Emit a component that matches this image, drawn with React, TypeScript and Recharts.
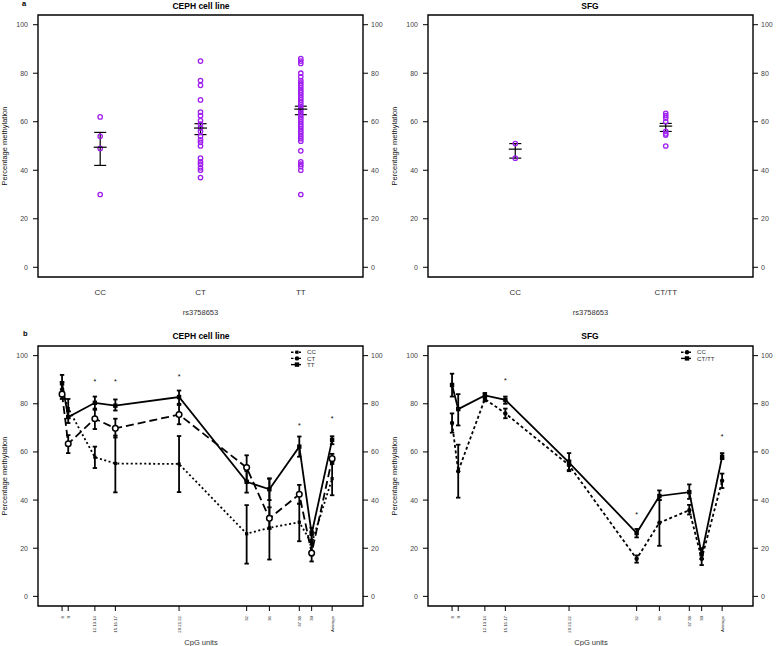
import {
  ComposedChart,
  ErrorBar,
  Legend,
  Line,
  ReferenceArea,
  Scatter,
  XAxis,
  YAxis,
} from 'recharts';

const FONT = '"Liberation Sans", Arial, Helvetica, sans-serif';
const PURPLE = '#A020F0';
const INK = '#333';

const Y_TICKS = [0, 20, 40, 60, 80, 100];
const Y_DOMAIN: [number, number] = [-4, 104];

// a) per-sample methylation by rs3758653 genotype
const CEPH_GENOS = ['CC', 'CT', 'TT'];
const CEPH_CC = [62, 54, 49, 30];
const CEPH_CT = [85, 77, 75, 69, 64, 62.5, 60.5, 59, 57.5, 56, 54, 52.5, 51.5, 50, 45, 43.5, 42.5, 41, 40, 37];
const CEPH_TT = [
  86, 85, 84, 80, 78.5, 77, 76, 75, 74, 73, 72, 71, 70, 69, 68, 67, 66, 65, 64, 63, 62, 61, 60, 59, 58, 57, 56, 55,
  54, 53, 52, 48, 43.5, 42.5, 41.5, 40, 30,
];
const CEPH_MEAN = [49.5, 57.4, 65.2];
const CEPH_SE_LO = [42, 54.7, 62.9];
const CEPH_SE_HI = [55.6, 59.2, 66.4];

const SFG_GENOS = ['CC', 'CT/TT'];
const SFG_CC = [51, 45];
const SFG_CTTT = [63.5, 62.5, 61.5, 60, 56, 55, 54.5, 50];
const SFG_MEAN = [48.7, 58.2];
const SFG_SE_LO = [45, 56];
const SFG_SE_HI = [51, 59.3];

// b) mean methylation per CpG unit
const CPG_LABELS = ['8', '9', '12.13.14', '15.16.17', '20.21.22', '32', '36', '37.38', '39', 'Average'];
const CPG_POS = [7.4, 9.3, 17.5, 23.8, 43.4, 64.2, 71.2, 80.4, 84.2, 90.5];

const CEPH_B_CC = [86, 78, 57.8, 55.2, 55, 26, 28.5, 30.8, 22, 48.9];
const CEPH_B_CC_LO = [83, 74, 53.3, 43.2, 43.3, 13.6, 15.3, 22.9, 17, 42];
const CEPH_B_CC_HI = [89, 82, 62.2, 66.8, 66.6, 37.9, 48.9, 38.5, 27, 55.8];
const CEPH_B_CT = [84, 63.4, 73.8, 69.8, 75.5, 53.5, 32.4, 42.4, 18, 57.2];
const CEPH_B_CT_LO = [82, 59.5, 69.5, 66, 71.5, 48, 28, 38.5, 14.5, 55];
const CEPH_B_CT_HI = [86, 67, 78, 73.8, 79.5, 58.6, 37, 46.3, 21.5, 59.2];
const CEPH_B_TT = [88.5, 74.5, 80.4, 79.2, 82.8, 47.6, 44.5, 62.2, 26, 65];
const CEPH_B_TT_LO = [85, 72, 77.5, 77.2, 80, 43.1, 40, 58, 23.5, 63.2];
const CEPH_B_TT_HI = [92, 77, 83, 81.8, 85.5, 52, 49, 66.4, 28.5, 66.5];
const CEPH_STAR_IDX = [2, 3, 4, 7, 9];
const CEPH_STAR_Y = [89.2, 89.2, 91.4, 71, 74];

const SFG_B_CC = [72, 52, 82, 76, 54.5, 15.6, 30.6, 35.8, 15.6, 48];
const SFG_B_CC_LO = [68, 41, 81, 74, 52.5, 14, 21, 34, 13, 45];
const SFG_B_CC_HI = [76, 63, 83, 78, 56.5, 17, 40, 38, 18, 51];
const SFG_B_CTTT = [87.8, 77.8, 83.5, 81.6, 55.6, 26.3, 41.7, 43.3, 17.5, 58];
const SFG_B_CTTT_LO = [83, 71, 82.5, 80, 52, 24.5, 40, 40.5, 15.5, 57];
const SFG_B_CTTT_HI = [92.5, 84, 84.5, 83, 59.5, 28, 44, 46.5, 20, 59.5];
const SFG_STAR_IDX = [3, 5, 9];
const SFG_STAR_Y = [89.6, 34, 66.4];

type Marker = 'sq' | 'smallSq' | 'open' | 'dot';
type Series = { key: string; name: string; mean: number[]; lo: number[]; hi: number[]; dash?: string; marker: Marker };

const CEPH_SERIES: Series[] = [
  { key: 'cc', name: 'CC', mean: CEPH_B_CC, lo: CEPH_B_CC_LO, hi: CEPH_B_CC_HI, dash: '2 2.5', marker: 'smallSq' },
  { key: 'ct', name: 'CT', mean: CEPH_B_CT, lo: CEPH_B_CT_LO, hi: CEPH_B_CT_HI, dash: '8 4', marker: 'open' },
  { key: 'tt', name: 'TT', mean: CEPH_B_TT, lo: CEPH_B_TT_LO, hi: CEPH_B_TT_HI, marker: 'sq' },
];
const SFG_SERIES: Series[] = [
  { key: 'cc', name: 'CC', mean: SFG_B_CC, lo: SFG_B_CC_LO, hi: SFG_B_CC_HI, dash: '3 2.5', marker: 'dot' },
  { key: 'cttt', name: 'CT/TT', mean: SFG_B_CTTT, lo: SFG_B_CTTT_LO, hi: SFG_B_CTTT_HI, marker: 'sq' },
];

const TICK = { fontSize: 7, fill: '#444', fontFamily: FONT };

function drawMarker(kind: Marker, cx: number, cy: number, key?: string) {
  if (kind === 'sq') return <rect key={key} x={cx - 2.2} y={cy - 2.2} width={4.4} height={4.4} fill="#000" />;
  if (kind === 'smallSq') return <rect key={key} x={cx - 1.6} y={cy - 1.6} width={3.2} height={3.2} fill="#000" />;
  if (kind === 'open')
    return <circle key={key} cx={cx} cy={cy} r={2.8} fill="#fff" stroke="#000" strokeWidth={1.5} />;
  return <circle key={key} cx={cx} cy={cy} r={2.2} fill="#000" />;
}

const openCircle = (p: any) => (
  <circle cx={p.cx} cy={p.cy} r={2.2} fill="none" stroke={PURPLE} strokeWidth={1.3} />
);
const meanTick = (p: any) => (
  <line x1={p.cx - 6.5} x2={p.cx + 6.5} y1={p.cy} y2={p.cy} stroke="#000" strokeWidth={1.2} />
);
const starShape = (p: any) => (
  <text x={p.cx} y={p.cy + 2.6} textAnchor="middle" fontSize={7} fontFamily={FONT} fill="#000">
    *
  </text>
);

function CpgTick(p: any) {
  const label = CPG_LABELS[CPG_POS.indexOf(p.payload.value)];
  return (
    <text
      x={p.x}
      y={p.y}
      transform={`rotate(-90 ${p.x} ${p.y})`}
      textAnchor="end"
      dy="0.35em"
      fontSize={4.3}
      fontFamily={FONT}
      fill="#222"
    >
      {label}
    </text>
  );
}

function StripPanel({
  genos,
  groups,
  mean,
  lo,
  hi,
}: {
  genos: string[];
  groups: number[][];
  mean: number[];
  lo: number[];
  hi: number[];
}) {
  const n = genos.length;
  // R-style x range: 0.5..n+0.5 with 4% padding
  const xDomain: [number, number] = [0.5 - 0.04 * n, n + 0.5 + 0.04 * n];
  const points = groups.flatMap((vals, i) => vals.map((y) => ({ x: i + 1, y })));
  const summary = mean.map((m, i) => ({ x: i + 1, y: m, err: [m - lo[i], hi[i] - m] }));
  return (
    <ComposedChart width={390} height={320} margin={{ top: 15, right: 2, bottom: 0, left: 8 }}>
      <XAxis
        type="number"
        dataKey="x"
        domain={xDomain}
        allowDataOverflow
        ticks={genos.map((_, i) => i + 1)}
        interval={0}
        tickFormatter={(v: number) => genos[v - 1]}
        height={43}
        tickLine={false}
        axisLine={false}
        tickSize={6}
        tickMargin={6}
        tick={{ fontSize: 8, fill: INK, fontFamily: FONT }}
      />
      <YAxis
        yAxisId="l"
        type="number"
        domain={Y_DOMAIN}
        allowDataOverflow
        ticks={Y_TICKS}
        interval={0}
        width={30}
        axisLine={false}
        tickSize={5}
        tickMargin={5}
        tickLine={{ stroke: '#000' }}
        tick={TICK}
      />
      <YAxis
        yAxisId="r"
        orientation="right"
        type="number"
        domain={Y_DOMAIN}
        allowDataOverflow
        ticks={Y_TICKS}
        interval={0}
        width={25}
        axisLine={false}
        tickSize={5}
        tickMargin={3}
        tickLine={{ stroke: '#000' }}
        tick={TICK}
      />
      <ReferenceArea
        yAxisId="l"
        x1={xDomain[0]}
        x2={xDomain[1]}
        y1={Y_DOMAIN[0]}
        y2={Y_DOMAIN[1]}
        fill="none"
        stroke="#000"
        strokeWidth={1.4}
      />
      <Scatter yAxisId="l" data={points} dataKey="y" shape={openCircle} isAnimationActive={false} />
      <Scatter yAxisId="l" data={summary} dataKey="y" shape={meanTick} isAnimationActive={false}>
        <ErrorBar dataKey="err" direction="y" width={6} stroke="#000" strokeWidth={1.2} />
      </Scatter>
    </ComposedChart>
  );
}

function LegendBox({ series }: { series: Series[] }) {
  return (
    <svg width={60} height={24}>
      {series.map((s, i) => {
        const y = 4.2 + i * 6.2;
        return (
          <g key={s.key}>
            <line x1={4} x2={14} y1={y} y2={y} stroke="#000" strokeWidth={1.4} strokeDasharray={s.dash ? '2.5 1.5' : undefined} />
            {drawMarker(s.marker === 'open' ? 'dot' : s.marker, 10, y)}
            <text x={20} y={y} dy="0.35em" fontSize={6.2} fontFamily={FONT} fill={INK}>
              {s.name}
            </text>
          </g>
        );
      })}
    </svg>
  );
}

function ProfilePanel({ series, starIdx, starY }: { series: Series[]; starIdx: number[]; starY: number[] }) {
  const rows = CPG_POS.map((pos, i) => {
    const row: Record<string, unknown> = { pos };
    series.forEach((s) => {
      row[s.key] = s.mean[i];
      row[`${s.key}Err`] = [s.mean[i] - s.lo[i], s.hi[i] - s.mean[i]];
    });
    return row;
  });
  const stars = starIdx.map((i, k) => ({ pos: CPG_POS[i], y: starY[k] }));
  return (
    <ComposedChart width={390} height={326} data={rows} margin={{ top: 26, right: 2, bottom: 0, left: 8 }}>
      <XAxis
        type="number"
        dataKey="pos"
        domain={[0, 100]}
        allowDataOverflow
        ticks={CPG_POS}
        interval={0}
        height={40}
        axisLine={false}
        tickSize={5}
        tickMargin={5}
        tickLine={{ stroke: '#000' }}
        tick={CpgTick}
      />
      <YAxis
        yAxisId="l"
        type="number"
        domain={Y_DOMAIN}
        allowDataOverflow
        ticks={Y_TICKS}
        interval={0}
        width={30}
        axisLine={false}
        tickSize={5}
        tickMargin={5}
        tickLine={{ stroke: '#000' }}
        tick={TICK}
      />
      <YAxis
        yAxisId="r"
        orientation="right"
        type="number"
        domain={Y_DOMAIN}
        allowDataOverflow
        ticks={Y_TICKS}
        interval={0}
        width={25}
        axisLine={false}
        tickSize={5}
        tickMargin={3}
        tickLine={{ stroke: '#000' }}
        tick={TICK}
      />
      <ReferenceArea
        yAxisId="l"
        x1={0}
        x2={100}
        y1={Y_DOMAIN[0]}
        y2={Y_DOMAIN[1]}
        fill="none"
        stroke="#000"
        strokeWidth={1.4}
      />
      {series.map((s) => (
        <Line
          key={s.key}
          yAxisId="l"
          type="linear"
          dataKey={s.key}
          stroke="#000"
          strokeWidth={1.8}
          strokeDasharray={s.dash}
          dot={(p: any) => drawMarker(s.marker, p.cx, p.cy, `${s.key}-${p.index}`)}
          activeDot={false}
          isAnimationActive={false}
        >
          <ErrorBar dataKey={`${s.key}Err`} direction="y" width={2.2} stroke="#000" strokeWidth={1.8} />
        </Line>
      ))}
      <Scatter yAxisId="l" data={stars} dataKey="y" shape={starShape} isAnimationActive={false} />
      <Legend
        layout="vertical"
        align="center"
        verticalAlign="middle"
        wrapperStyle={{ left: 287, top: 28, width: 60, height: 24 }}
        content={() => <LegendBox series={series} />}
      />
    </ComposedChart>
  );
}

const label = { fontFamily: FONT, fill: INK } as const;

export default function App() {
  return (
    <div
      style={{
        position: 'absolute',
        left: 0,
        top: 0,
        width: 777,
        height: 646,
        background: '#fff',
        overflow: 'hidden',
      }}
    >
      <div style={{ position: 'absolute', left: 0, top: 0 }}>
        <StripPanel
          genos={CEPH_GENOS}
          groups={[CEPH_CC, CEPH_CT, CEPH_TT]}
          mean={CEPH_MEAN}
          lo={CEPH_SE_LO}
          hi={CEPH_SE_HI}
        />
      </div>
      <div style={{ position: 'absolute', left: 390, top: 0 }}>
        <StripPanel genos={SFG_GENOS} groups={[SFG_CC, SFG_CTTT]} mean={SFG_MEAN} lo={SFG_SE_LO} hi={SFG_SE_HI} />
      </div>
      <div style={{ position: 'absolute', left: 0, top: 320 }}>
        <ProfilePanel series={CEPH_SERIES} starIdx={CEPH_STAR_IDX} starY={CEPH_STAR_Y} />
      </div>
      <div style={{ position: 'absolute', left: 390, top: 320 }}>
        <ProfilePanel series={SFG_SERIES} starIdx={SFG_STAR_IDX} starY={SFG_STAR_Y} />
      </div>
      <svg width={777} height={646} style={{ position: 'absolute', left: 0, top: 0, pointerEvents: 'none' }}>
        <text x={22} y={6} fontSize={7.5} fontWeight="bold" fontFamily={FONT} fill="#000">
          a
        </text>
        <text x={23} y={336} fontSize={7.5} fontWeight="bold" fontFamily={FONT} fill="#000">
          b
        </text>
        {[
          { x: 201, y: 8.5, t: 'CEPH cell line' },
          { x: 590, y: 8.5, t: 'SFG' },
          { x: 201, y: 339, t: 'CEPH cell line' },
          { x: 590, y: 339, t: 'SFG' },
        ].map((d, i) => (
          <text key={i} x={d.x} y={d.y} textAnchor="middle" fontSize={8.5} fontWeight="bold" fontFamily={FONT} fill="#000">
            {d.t}
          </text>
        ))}
        {[
          [4, 146],
          [394, 146],
          [4, 476],
          [394, 476],
        ].map(([x, y], i) => (
          <text
            key={i}
            x={x}
            y={y}
            transform={`rotate(-90 ${x} ${y})`}
            textAnchor="middle"
            dy="0.35em"
            fontSize={7.5}
            {...label}
            fill="#111"
          >
            Percentage methylation
          </text>
        ))}
        <text x={200.5} y={314.5} textAnchor="middle" fontSize={7.5} {...label}>
          rs3758653
        </text>
        <text x={590.5} y={314.5} textAnchor="middle" fontSize={7.5} {...label}>
          rs3758653
        </text>
        <text x={201} y={645} textAnchor="middle" fontSize={7.5} {...label}>
          CpG units
        </text>
        <text x={591} y={645} textAnchor="middle" fontSize={7.5} {...label}>
          CpG units
        </text>
      </svg>
    </div>
  );
}
